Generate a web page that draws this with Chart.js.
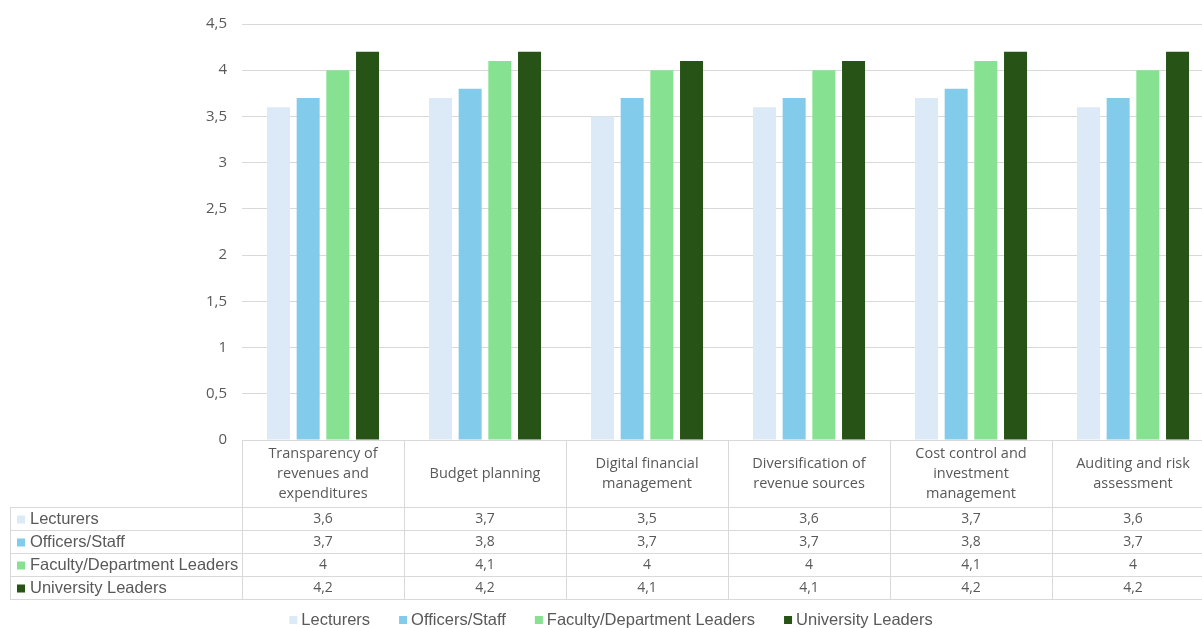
<!DOCTYPE html>
<html>
<head>
<meta charset="utf-8">
<script src="https://cdn.jsdelivr.net/npm/chart.js@4"></script>
<style>
  html, body { margin: 0; padding: 0; background: #fff; overflow: hidden; }
  #wrap { width: 1202px; height: 628px; overflow: hidden; }
</style>
</head>
<body>
<div id="wrap"><canvas id="chart" width="1216" height="628"></canvas></div>
<script>
/* ===== data ===== */
var categories = [
  ['Transparency of', 'revenues and', 'expenditures'],
  ['Budget planning'],
  ['Digital financial', 'management'],
  ['Diversification of', 'revenue sources'],
  ['Cost control and', 'investment', 'management'],
  ['Auditing and risk', 'assessment']
];
var seriesNames = ['Lecturers', 'Officers/Staff', 'Faculty/Department Leaders', 'University Leaders'];
var lecturers = [3.6, 3.7, 3.5, 3.6, 3.7, 3.6];
var officers = [3.7, 3.8, 3.7, 3.7, 3.8, 3.7];
var facultyLeaders = [4.0, 4.1, 4.0, 4.0, 4.1, 4.0];
var universityLeaders = [4.2, 4.2, 4.1, 4.1, 4.2, 4.2];
var yTicks = [0, 0.5, 1, 1.5, 2, 2.5, 3, 3.5, 4, 4.5];

var colors = ['#DCEAF7', '#83CBEB', '#86E290', '#275317'];
var txt = '#595959';
var lineCol = '#d9d9d9';

function fmt(v) { return String(v).replace('.', ','); }

// data table + legend drawn under the plot, positioned by the x scale
var tablePlugin = {
  id: 'dataTable',
  afterDraw: function(chart) {
    var ctx = chart.ctx;
    var xs = chart.scales.x;
    var area = chart.chartArea;
    var n = categories.length;
    var step = (area.right - area.left) / n;
    var top = area.bottom;
    var headH = 67, rowH = 23;
    var leftX = 10;
    var rowsTop = top + headH;
    var bottom = rowsTop + rowH * seriesNames.length;

    ctx.save();
    ctx.strokeStyle = lineCol;
    ctx.lineWidth = 1;
    // vertical lines
    for (var i = 0; i <= n; i++) {
      var x = Math.round(area.left + i * step) + 0.5;
      ctx.beginPath(); ctx.moveTo(x, top); ctx.lineTo(x, bottom); ctx.stroke();
    }
    ctx.beginPath(); ctx.moveTo(leftX + 0.5, rowsTop); ctx.lineTo(leftX + 0.5, bottom); ctx.stroke();
    // horizontal lines
    ctx.beginPath(); ctx.moveTo(area.left, top + 0.5); ctx.lineTo(area.right, top + 0.5); ctx.stroke();
    for (var r = 0; r <= seriesNames.length; r++) {
      var y = Math.round(rowsTop + r * rowH) + 0.5;
      ctx.beginPath(); ctx.moveTo(leftX, y); ctx.lineTo(area.right, y); ctx.stroke();
    }

    // header labels
    ctx.fillStyle = txt;
    ctx.textAlign = 'center';
    ctx.textBaseline = 'middle';
    ctx.font = '14.5px "Open Sans", sans-serif';
    categories.forEach(function(lines, i) {
      var cx = xs.getPixelForValue(i);
      var lh = 20;
      var y0 = top + headH / 2 - (lines.length - 1) * lh / 2;
      lines.forEach(function(t, k) { ctx.fillText(t, cx, y0 + k * lh); });
    });

    // rows
    var series = chart.data.datasets;
    series.forEach(function(ds, r) {
      var cy = rowsTop + r * rowH + rowH / 2 + 1;
      ctx.fillStyle = ds.backgroundColor;
      ctx.fillRect(leftX + 7, cy - 4, 8, 8);
      ctx.fillStyle = txt;
      ctx.textAlign = 'left';
      ctx.font = '16.5px "Liberation Sans", Arial, sans-serif';
      ctx.fillText(ds.label, leftX + 20, cy);
      ctx.textAlign = 'center';
      ctx.font = '14px "Open Sans", sans-serif';
      ds.data.forEach(function(v, i) {
        ctx.fillText(fmt(v), xs.getPixelForValue(i), cy);
      });
    });

    // legend
    ctx.font = '16.5px "Liberation Sans", Arial, sans-serif';
    ctx.textAlign = 'left';
    var gap = 29, box = 8, bgap = 4;
    var widths = series.map(function(ds) { return box + bgap + ctx.measureText(ds.label).width; });
    var total = widths.reduce(function(a, b) { return a + b; }, 0) + gap * (series.length - 1);
    var lx = 611 - total / 2;
    var ly = 620;
    series.forEach(function(ds, i) {
      ctx.fillStyle = ds.backgroundColor;
      ctx.fillRect(lx, ly - 4, box, box);
      ctx.fillStyle = txt;
      ctx.fillText(ds.label, lx + box + bgap, ly);
      lx += widths[i] + gap;
    });
    ctx.restore();
  }
};

var datasets = [lecturers, officers, facultyLeaders, universityLeaders].map(function(d, i) {
  return {
    label: seriesNames[i],
    data: d,
    backgroundColor: colors[i],
    borderWidth: 0,
    categoryPercentage: 0.733,
    barPercentage: 0.775
  };
});

var chart = new Chart(document.getElementById('chart'), {
  type: 'bar',
  data: { labels: categories.map(function(c) { return c.join(' '); }), datasets: datasets },
  options: {
    responsive: false,
    animation: false,
    layout: { padding: { top: 20, bottom: 188, left: 0, right: 2 } },
    plugins: { legend: { display: false }, tooltip: { enabled: false } },
    scales: {
      x: { display: false },
      y: {
        min: 0, max: 4.5,
        afterFit: function(scale) { scale.width = 242; },
        afterBuildTicks: function(scale) { scale.ticks = yTicks.map(function(v) { return { value: v }; }); },
        border: { display: false },
        grid: { color: lineCol, drawTicks: false },
        ticks: {
          padding: 15,
          color: txt,
          font: { size: 15, family: '"Open Sans", sans-serif' },
          callback: function(v) { return fmt(v); }
        }
      }
    }
  },
  plugins: [tablePlugin]
});
</script>
</body>
</html>
